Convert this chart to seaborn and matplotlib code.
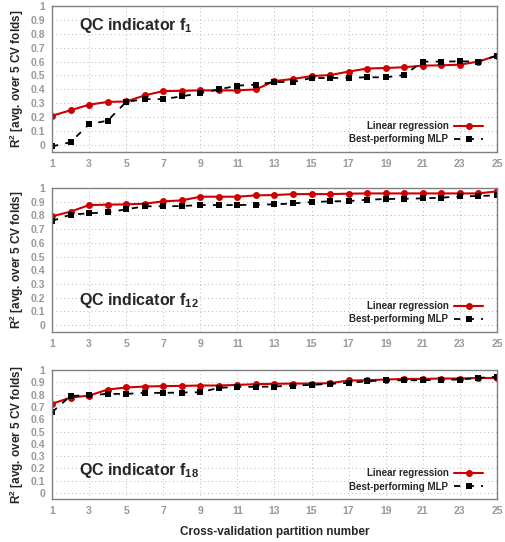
import matplotlib
matplotlib.use("Agg")
import matplotlib.pyplot as plt
import seaborn as sns

sns.set_style("white")
plt.rcParams["font.family"] = ["Liberation Sans", "DejaVu Sans"]
plt.rcParams["font.weight"] = "bold"
plt.rcParams["mathtext.fontset"] = "custom"
plt.rcParams["mathtext.rm"] = "Liberation Sans:bold"
plt.rcParams["mathtext.bf"] = "Liberation Sans:bold"
plt.rcParams["mathtext.it"] = "Liberation Sans:bold"

# ------------------------
# DADOS
# ------------------------
partition = list(range(1, 26))

f1_linear = [0.21, 0.25, 0.29, 0.31, 0.313, 0.357, 0.388, 0.39, 0.393, 0.393, 0.393, 0.40,
             0.46, 0.475, 0.496, 0.503, 0.528, 0.55, 0.554, 0.559, 0.571, 0.573, 0.578, 0.60, 0.643]
f1_mlp = [-0.01, 0.02, 0.15, 0.175, 0.31, 0.33, 0.33, 0.35, 0.373, 0.40, 0.427, 0.434,
          0.453, 0.453, 0.482, 0.482, 0.484, 0.487, 0.487, 0.503, 0.60, 0.60, 0.602, 0.60, 0.643]

f12_linear = [0.794, 0.828, 0.876, 0.879, 0.881, 0.886, 0.903, 0.91, 0.937, 0.937, 0.937, 0.947,
              0.949, 0.956, 0.956, 0.956, 0.959, 0.961, 0.961, 0.961, 0.961, 0.961, 0.961, 0.961, 0.976]
f12_mlp = [0.76, 0.806, 0.816, 0.823, 0.845, 0.867, 0.867, 0.869, 0.876, 0.876, 0.876, 0.879,
           0.881, 0.888, 0.898, 0.903, 0.905, 0.915, 0.92, 0.922, 0.925, 0.93, 0.939, 0.942, 0.947]

f18_linear = [0.726, 0.777, 0.793, 0.842, 0.859, 0.867, 0.87, 0.872, 0.875, 0.875, 0.88, 0.886,
              0.889, 0.891, 0.891, 0.894, 0.916, 0.918, 0.924, 0.929, 0.929, 0.932, 0.932, 0.937, 0.935]
f18_mlp = [0.658, 0.79, 0.796, 0.807, 0.807, 0.815, 0.815, 0.818, 0.82, 0.856, 0.864, 0.864,
           0.867, 0.875, 0.88, 0.889, 0.897, 0.91, 0.918, 0.918, 0.918, 0.921, 0.924, 0.937, 0.946]

ytick_labels = ["0", "0.1", "0.2", "0.3", "0.4", "0.5", "0.6", "0.7", "0.8", "0.9", "1"]

paineis = [
    ("QC indicator f$_{1}$", f1_linear, f1_mlp, "top"),
    ("QC indicator f$_{12}$", f12_linear, f12_mlp, "bottom"),
    ("QC indicator f$_{18}$", f18_linear, f18_mlp, "bottom"),
]

# posicoes dos eixos [left, bottom, width, height]
posicoes = [
    [0.103, 0.7196, 0.881, 0.2694],
    [0.103, 0.3875, 0.881, 0.2655],
    [0.103, 0.0793, 0.881, 0.2377],
]

cinza = "#999999"

fig = plt.figure(figsize=(5.05, 5.42), dpi=100)

for (titulo, lin, mlp, onde), pos in zip(paineis, posicoes):
    ax = fig.add_axes(pos)
    sns.lineplot(x=partition, y=lin, ax=ax, color="#cc0000", linewidth=1.5,
                 marker="o", markersize=5, markeredgewidth=0, label="Linear regression")
    sns.lineplot(x=partition, y=mlp, ax=ax, color="black", linewidth=1.3,
                 linestyle=(0, (3.5, 4)), marker="s", markersize=4.2, markeredgewidth=0,
                 label="Best-performing MLP")

    ax.set_xlim(1, 25)
    ax.set_ylim(-0.05, 1.0)
    ax.set_xticks(range(1, 26, 2))
    ax.set_yticks([i / 10 for i in range(11)])
    ax.set_yticklabels(ytick_labels)
    ax.tick_params(direction="in", length=3, width=0.8, color="#808080",
                   labelcolor=cinza, labelsize=7.5, pad=5)
    for lab in ax.get_xticklabels() + ax.get_yticklabels():
        lab.set_fontweight("bold")
    ax.grid(True, linestyle=(0, (1, 3)), color="#bbbbbb", linewidth=0.7)
    for sp in ax.spines.values():
        sp.set_color("#808080")
        sp.set_linewidth(1.0)

    ax.set_ylabel("R$^{2}$ [avg. over 5 CV folds]", fontsize=8.5, fontweight="bold",
                  labelpad=3)

    if onde == "top":
        ax.text(0.06, 0.93, titulo, transform=ax.transAxes, fontsize=11.5,
                fontweight="bold", va="top", ha="left")
    else:
        ax.text(0.06, 0.15, titulo, transform=ax.transAxes, fontsize=11.5,
                fontweight="bold", va="bottom", ha="left")

    leg = ax.legend(loc="lower right", bbox_to_anchor=(0.985, 0.005), frameon=False,
                    markerfirst=False, fontsize=7, handlelength=3.0,
                    handletextpad=0.6, labelspacing=0.35, borderaxespad=0.3)
    for t in leg.get_texts():
        t.set_fontweight("bold")

ax.set_xlabel("Cross-validation partition number", fontsize=8.5, fontweight="bold", labelpad=7)

fig.savefig("out.png", dpi=100)
